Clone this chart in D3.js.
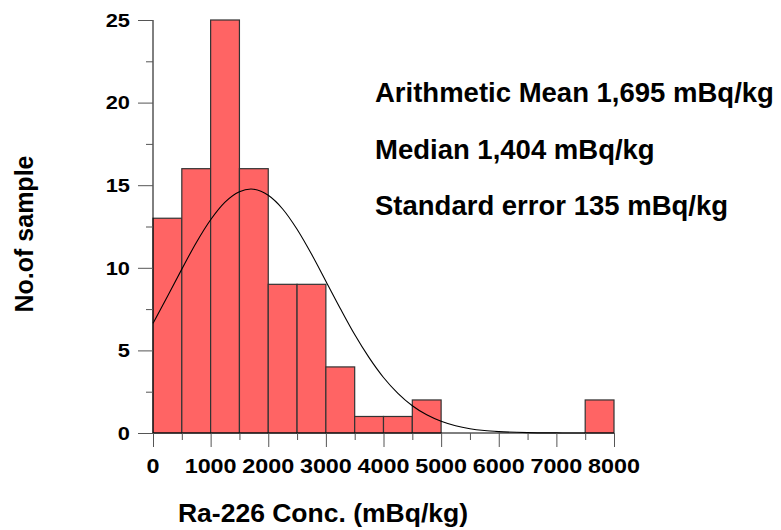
<!DOCTYPE html>
<html>
<head>
<meta charset="utf-8">
<script src="https://cdn.jsdelivr.net/npm/d3@7"></script>
<style>
  body { margin: 0; background: #fff; }
  text { font-family: "Liberation Sans", Arial, sans-serif; font-weight: bold; fill: #000; }
</style>
</head>
<body>
<div id="VizBox"></div>
<script>
// histogram bins (mBq/kg) and counts
var binStart = [0, 500, 1000, 1500, 2000, 2500, 3000, 3500, 4000, 4500, 5000, 5500, 6000, 6500, 7000, 7500];
var counts   = [13, 16, 25, 16, 9, 9, 4, 1, 1, 2, 0, 0, 0, 0, 0, 2];
var binWidth = 500;

// fitted normal curve
var curveX = [0, 250, 500, 750, 1000, 1250, 1500, 1700, 2000, 2250, 2500, 2750, 3000, 3250, 3500, 3750, 4000, 4250, 4500, 4750, 5000, 5250, 5500, 5750, 6000, 6500, 7000, 7500];
var curveY = [6.64, 8.26, 9.92, 11.52, 12.91, 13.98, 14.61, 14.77, 14.39, 13.56, 12.33, 10.83, 9.19, 7.54, 5.96, 4.56, 3.36, 2.40, 1.65, 1.10, 0.71, 0.44, 0.26, 0.15, 0.085, 0.024, 0.006, 0];

var xTicks = [0, 1000, 2000, 3000, 4000, 5000, 6000, 7000, 8000];
var yTicks = [0, 5, 10, 15, 20, 25];

var statLines = ["Arithmetic Mean 1,695 mBq/kg", "Median 1,404 mBq/kg", "Standard error 135 mBq/kg"];

var W = 781, H = 530;
var svg = d3.select("#VizBox")
  .append("svg")
    .attr("width", W)
    .attr("height", H);

var x = d3.scaleLinear().domain([0, 8000]).range([153, 614]);
var y = d3.scaleLinear().domain([0, 25]).range([433, 20]);

// bars
svg.selectAll("rect.bar")
  .data(counts.map(function(c, i) { return {x0: binStart[i], n: c}; }).filter(function(d) { return d.n > 0; }))
  .enter()
  .append("rect")
    .attr("class", "bar")
    .attr("x", function(d) { return x(d.x0); })
    .attr("y", function(d) { return y(d.n); })
    .attr("width", function(d) { return x(d.x0 + binWidth) - x(d.x0); })
    .attr("height", function(d) { return y(0) - y(d.n); })
    .attr("fill", "#ff6464")
    .attr("stroke", "#333")
    .attr("stroke-width", 1.2);

// normal curve
var line = d3.line()
  .x(function(d) { return x(d[0]); })
  .y(function(d) { return y(d[1]); })
  .curve(d3.curveMonotoneX);
svg.append("path")
  .datum(curveX.map(function(v, i) { return [v, curveY[i]]; }))
  .attr("d", line)
  .attr("fill", "none")
  .attr("stroke", "#000")
  .attr("stroke-width", 1.1);

// Y axis
var yAxis = svg.append("g")
  .attr("transform", "translate(153,0)")
  .call(d3.axisLeft(y).tickValues(d3.range(0, 25.1, 2.5)).tickSize(7).tickFormat(""));
yAxis.selectAll(".tick line")
  .attr("x2", function(d) { return d % 5 === 0 ? -15 : -7; })
  .attr("stroke", "#555");
yAxis.select(".domain").attr("stroke", "#000").attr("d", "M0," + y(25) + "V" + y(0));

svg.append("g").selectAll("text")
  .data(yTicks)
  .enter()
  .append("text")
    .attr("transform", function(d) { return "translate(130," + (y(d) + 6.8) + ") scale(1.18,1)"; })
    .attr("text-anchor", "end")
    .attr("font-size", 18.5)
    .text(function(d) { return d; });

// X axis
var xAxis = svg.append("g")
  .attr("transform", "translate(0," + y(0) + ")")
  .call(d3.axisBottom(x).tickValues(d3.range(0, 8001, 500)).tickSize(7).tickFormat(""));
xAxis.selectAll(".tick line")
  .attr("y2", function(d) { return d % 1000 === 0 ? 14 : 7; })
  .attr("stroke", "#555");
xAxis.select(".domain").attr("stroke", "#000").attr("d", "M" + x(0) + ",0H" + x(8000));

svg.append("g").selectAll("text")
  .data(xTicks)
  .enter()
  .append("text")
    .attr("transform", function(d) { return "translate(" + x(d) + ",473) scale(1.14,1)"; })
    .attr("text-anchor", "middle")
    .attr("font-size", 20.5)
    .text(function(d) { return d; });

// axis titles
svg.append("text")
  .attr("x", 323)
  .attr("y", 522)
  .attr("text-anchor", "middle")
  .attr("font-size", 26.5)
  .text("Ra-226 Conc. (mBq/kg)");

svg.append("text")
  .attr("transform", "translate(33,234) rotate(-90)")
  .attr("text-anchor", "middle")
  .attr("font-size", 25)
  .text("No.of sample");

// statistics
svg.append("g").selectAll("text")
  .data(statLines)
  .enter()
  .append("text")
    .attr("x", 375)
    .attr("y", function(d, i) { return 102 + i * 56.5; })
    .attr("font-size", 27.5)
    .text(function(d) { return d; });
</script>
</body>
</html>
